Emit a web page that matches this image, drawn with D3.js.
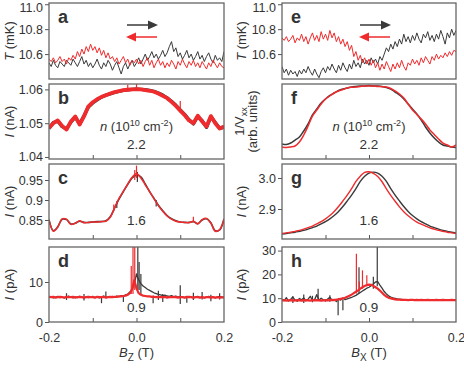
<!DOCTYPE html>
<html>
<head>
<meta charset="utf-8">
<script src="https://cdn.jsdelivr.net/npm/d3@7"></script>
<style>
    body { margin: 0; background: #fff; }
    text { font-family: "Liberation Sans", Arial, sans-serif; fill: #333; }
</style>
</head>
<body>
<div id="chart"></div>
<script>
// field sweeps (T), as recorded: fine steps for T and I(pA), coarse for the rest
let fieldFine = d3.range(-0.2, 0.2001, 0.005);
let fieldCoarse = d3.range(-0.2, 0.2001, 0.01);

// ---- panel a : T (mK) vs Bz
let tempUpZ = [10.53,10.50,10.55,10.51,10.49,10.54,10.52,10.50,10.55,10.53,
    10.51,10.56,10.53,10.50,10.54,10.58,10.52,10.55,10.50,10.53,
    10.49,10.52,10.56,10.51,10.48,10.53,10.50,10.55,10.52,10.47,
    10.51,10.54,10.49,10.44,10.50,10.53,10.48,10.52,10.55,10.50,
    10.53,10.57,10.52,10.56,10.60,10.55,10.58,10.62,10.57,10.60,
    10.56,10.59,10.63,10.58,10.61,10.66,10.70,10.62,10.65,10.58,
    10.61,10.56,10.59,10.63,10.57,10.60,10.55,10.58,10.62,10.56,
    10.59,10.54,10.58,10.61,10.56,10.53,10.59,10.55,10.57,10.54,10.62];
let tempDownZ = [10.56,10.54,10.57,10.53,10.55,10.58,10.54,10.56,10.52,10.57,
    10.55,10.59,10.56,10.62,10.58,10.64,10.60,10.66,10.62,10.68,
    10.63,10.66,10.61,10.65,10.59,10.63,10.57,10.61,10.56,10.58,
    10.54,10.57,10.52,10.55,10.58,10.53,10.56,10.51,10.55,10.53,
    10.56,10.52,10.55,10.50,10.54,10.57,10.51,10.55,10.49,10.53,
    10.56,10.51,10.54,10.49,10.53,10.50,10.55,10.52,10.48,10.54,
    10.51,10.56,10.52,10.49,10.54,10.51,10.55,10.50,10.53,10.49,
    10.54,10.51,10.48,10.53,10.50,10.55,10.52,10.49,10.53,10.50,10.49];

// ---- panel e : T (mK) vs Bx
let tempUpX = [10.50,10.45,10.48,10.43,10.47,10.44,10.46,10.42,10.47,10.44,
    10.48,10.45,10.50,10.46,10.43,10.48,10.44,10.41,10.46,10.49,
    10.45,10.50,10.47,10.52,10.48,10.45,10.51,10.47,10.53,10.49,
    10.46,10.52,10.48,10.55,10.50,10.53,10.49,10.56,10.52,10.55,
    10.51,10.57,10.53,10.56,10.52,10.58,10.55,10.60,10.65,10.62,
    10.68,10.64,10.70,10.66,10.72,10.68,10.76,10.70,10.74,10.69,
    10.75,10.71,10.77,10.72,10.69,10.76,10.73,10.78,10.71,10.75,
    10.70,10.76,10.72,10.79,10.74,10.68,10.77,10.73,10.80,10.75,10.79];
let tempDownX = [10.73,10.71,10.74,10.70,10.72,10.75,10.69,10.73,10.71,10.76,
    10.70,10.74,10.68,10.73,10.77,10.71,10.75,10.70,10.78,10.72,
    10.76,10.71,10.79,10.73,10.77,10.70,10.74,10.68,10.72,10.66,
    10.70,10.63,10.67,10.58,10.62,10.55,10.59,10.53,10.57,10.52,
    10.56,10.51,10.55,10.49,10.53,10.47,10.52,10.48,10.54,10.50,
    10.46,10.52,10.48,10.53,10.49,10.55,10.50,10.47,10.53,10.51,
    10.56,10.52,10.55,10.51,10.57,10.53,10.58,10.55,10.52,10.58,
    10.55,10.60,10.56,10.59,10.57,10.61,10.58,10.62,10.59,10.63,10.62];

// ---- panel b : I (nA) vs Bz, n = 2.2
let currUpZ22 = [1.0484,1.0502,1.0506,1.0490,1.0483,1.0503,1.0518,1.0498,1.0522,1.0548,
    1.0560,1.0569,1.0577,1.0583,1.0587,1.0591,1.0594,1.0597,1.0599,1.0600,
    1.0601,1.0600,1.0599,1.0597,1.0594,1.0589,1.0583,1.0575,1.0565,1.0553,
    1.0539,1.0526,1.0510,1.0498,1.0520,1.0507,1.0488,1.0519,1.0502,1.0485,1.0488];
let currDownZ22 = [1.0486,1.0500,1.0508,1.0492,1.0481,1.0505,1.0520,1.0496,1.0520,1.0550,
    1.0562,1.0571,1.0578,1.0583,1.0588,1.0592,1.0595,1.0598,1.0599,1.0600,
    1.0600,1.0600,1.0598,1.0596,1.0593,1.0588,1.0581,1.0574,1.0563,1.0551,
    1.0537,1.0524,1.0508,1.0500,1.0522,1.0505,1.0490,1.0521,1.0500,1.0484,1.0490];
let spikesDownZ22 = [[-0.02, 1.0598, 1.0614], [0.0, 1.0600, 1.0622], [0.1, 1.0532, 1.0566]];

// ---- panel c : I (nA) vs Bz, n = 1.6
let currUpZ16 = [0.851,0.823,0.833,0.852,0.851,0.840,0.842,0.847,0.844,0.844,
    0.845,0.846,0.846,0.848,0.858,0.880,0.902,0.921,0.939,0.955,
    0.962,0.958,0.940,0.921,0.904,0.887,0.873,0.861,0.853,0.848,
    0.845,0.844,0.844,0.846,0.841,0.850,0.853,0.843,0.823,0.825,0.852];
let currDownZ16 = [0.850,0.822,0.832,0.853,0.852,0.839,0.842,0.848,0.843,0.844,
    0.845,0.845,0.846,0.847,0.857,0.881,0.904,0.922,0.940,0.957,
    0.966,0.955,0.938,0.921,0.903,0.886,0.872,0.860,0.852,0.847,
    0.845,0.844,0.843,0.847,0.840,0.851,0.854,0.842,0.822,0.826,0.853];
let spikesUpZ16 = [[0.002, 0.945, 0.970], [-0.045, 0.880, 0.897], [0.045, 0.884, 0.900]];
let spikesDownZ16 = [[0.0, 0.955, 0.986], [-0.004, 0.950, 0.975], [-0.052, 0.872, 0.889], [0.13, 0.845, 0.858]];

// ---- panel d : I (pA) vs Bz, n = 0.9
let currUpZ09 = [6.1,6.3,6.0,6.2,6.4,6.1,6.3,6.0,6.2,6.5,
    6.2,6.0,6.3,6.1,6.4,6.2,6.0,6.3,6.1,6.2,
    6.4,6.1,6.3,6.0,6.2,6.5,6.1,6.3,6.2,6.4,
    6.2,6.5,6.3,6.6,6.4,6.8,7.0,7.5,8.2,9.5,
    12.0,10.5,9.6,9.0,8.6,8.2,7.9,7.6,7.3,7.1,
    6.9,6.8,6.6,6.7,6.5,6.4,6.6,6.3,6.5,6.2,
    6.4,6.3,6.1,6.4,6.2,6.3,6.0,6.2,6.4,6.1,
    6.3,6.0,6.2,6.4,6.1,6.3,6.0,6.2,6.4,6.1,6.3];
let currDownZ09 = [6.3,6.2,6.3,6.1,6.2,6.3,6.2,6.1,6.3,6.2,
    6.2,6.3,6.1,6.2,6.3,6.2,6.1,6.2,6.3,6.2,
    6.2,6.1,6.3,6.2,6.2,6.3,6.1,6.2,6.3,6.2,
    6.3,6.3,6.4,6.4,6.5,6.6,6.8,7.2,8.2,10.5,
    8.4,7.2,6.8,6.6,6.5,6.4,6.4,6.3,6.3,6.2,
    6.3,6.2,6.2,6.3,6.1,6.2,6.2,6.3,6.2,6.1,
    6.2,6.2,6.1,6.2,6.3,6.2,6.1,6.2,6.2,6.1,
    6.2,6.1,6.2,6.2,6.1,6.2,6.1,6.2,6.1,6.2,6.1];
let spikesUpZ09 = [[0.003, 8, 19], [0.006, 8, 15], [0.010, 7, 12], [-0.16, 5.5, 7.2], [-0.12, 5.4, 7.0],
    [-0.08, 4.7, 6.5], [-0.07, 6.0, 7.6], [-0.03, 5.0, 6.5], [0.038, 4.7, 6.6], [0.05, 5.5, 7.8],
    [0.06, 5.0, 7.0], [0.10, 4.5, 9.2], [0.115, 4.8, 6.4], [0.13, 5.5, 7.3], [0.15, 5.6, 7.5],
    [0.17, 5.2, 6.8], [0.19, 5.6, 7.2]];
let spikesDownZ09 = [[-0.008, 7, 19], [-0.004, 8, 19], [-0.012, 7, 14]];

// ---- panel f : 1/Vxx (arb. units) vs Bx, n = 2.2
let invVUpX22 = [0.200,0.193,0.213,0.253,0.293,0.373,0.467,0.587,0.667,0.747,
    0.800,0.847,0.880,0.913,0.933,0.947,0.960,0.967,0.973,0.973,
    0.980,0.973,0.973,0.967,0.953,0.933,0.893,0.853,0.800,0.733,
    0.667,0.600,0.520,0.427,0.347,0.280,0.227,0.187,0.173,0.160,0.153];
let invVDownX22 = [0.160,0.153,0.160,0.173,0.227,0.320,0.440,0.573,0.653,0.733,
    0.800,0.840,0.880,0.907,0.927,0.947,0.956,0.960,0.967,0.973,
    0.973,0.973,0.967,0.964,0.960,0.940,0.907,0.867,0.813,0.733,
    0.653,0.593,0.533,0.467,0.387,0.327,0.267,0.213,0.187,0.160,0.187];

// ---- panel g : I (nA) vs Bx, n = 1.6
let currUpX16 = [2.819,2.821,2.823,2.825,2.828,2.831,2.835,2.840,2.845,2.852,
    2.859,2.868,2.879,2.892,2.908,2.926,2.945,2.966,2.989,3.006,
    3.016,3.019,3.016,3.006,2.989,2.966,2.945,2.926,2.908,2.892,
    2.879,2.868,2.859,2.852,2.845,2.840,2.835,2.831,2.828,2.825,2.823];
let currDownX16 = [2.821,2.823,2.825,2.828,2.831,2.835,2.840,2.845,2.852,2.859,
    2.868,2.879,2.892,2.908,2.926,2.945,2.966,2.989,3.006,3.018,
    3.020,3.015,3.005,2.988,2.965,2.944,2.925,2.907,2.891,2.878,
    2.867,2.858,2.851,2.845,2.839,2.835,2.831,2.828,2.825,2.823,2.821];

// ---- panel h : I (pA) vs Bx, n = 0.9
let currUpX09 = [9.5,9.0,10.2,8.8,9.6,10.5,9.2,8.7,9.9,9.3,
    10.1,8.9,9.6,10.8,9.0,9.4,11.5,9.1,10.0,9.3,
    8.8,9.7,10.4,9.1,9.5,8.6,9.8,9.2,10.1,9.4,
    9.7,10.0,10.3,10.8,11.2,11.8,12.4,13.0,13.6,14.2,
    14.6,15.2,16.0,16.8,17.0,15.5,14.2,12.8,11.8,11.0,
    10.5,10.1,9.9,9.7,9.6,9.5,9.4,9.4,9.3,9.4,
    9.3,9.3,9.4,9.2,9.3,9.3,9.2,9.3,9.2,9.3,
    9.2,9.3,9.2,9.2,9.3,9.2,9.2,9.3,9.2,9.2,9.2];
let currDownX09 = [9.1,9.2,9.0,9.1,9.2,9.0,9.1,9.2,9.1,9.0,
    9.1,9.2,9.1,9.0,9.2,9.1,9.2,9.1,9.0,9.1,
    9.2,9.1,9.2,9.3,9.2,9.4,9.5,9.7,9.9,10.2,
    10.6,11.0,11.5,12.1,12.7,13.3,14.0,14.6,15.1,15.5,
    15.7,15.6,15.2,14.6,14.0,13.2,12.3,11.4,10.7,10.2,
    9.9,9.7,9.5,9.4,9.4,9.3,9.3,9.3,9.2,9.3,
    9.3,9.2,9.3,9.2,9.3,9.2,9.2,9.3,9.2,9.2,
    9.2,9.3,9.2,9.2,9.3,9.2,9.2,9.2,9.3,9.2,9.2];
let spikesUpX09 = [[0.019, 15, 32], [0.010, 14, 19], [-0.023, 12, 23], [-0.117, 9, 14], [-0.071, 2.8, 9.5],
    [-0.060, 4.9, 9.5], [-0.15, 8, 11.5], [-0.13, 8.3, 11], [-0.175, 8, 10.8], [-0.09, 8.5, 11.2]];
let spikesDownX09 = [[-0.029, 12, 28.7], [-0.015, 14, 21.7], [-0.005, 15, 19.6], [-0.022, 13, 17]];

// labels
let densityLabels = ["2.2", "1.6", "0.9"];
let xTickLabels = [-0.2, 0.0, 0.2];
let xTickMarks = [-0.1, 0.0, 0.1];

const RED = "#ef2b2d", BLACK = "#3a3a3a";

class tracePanel {
    constructor(svg, box, opts) {
        this.svg = svg;
        this.box = box;
        this.opts = opts;
        this.initVis();
    }

    initVis() {
        let vis = this;
        let b = vis.box;

        vis.x = d3.scaleLinear().domain([-0.2, 0.2]).range([b.x0, b.x1]);
        vis.y = d3.scaleLinear().domain(vis.opts.yDomain).range([b.y1, b.y0]);

        vis.svg.append("clipPath")
            .attr("id", "clip-" + vis.opts.letter)
            .append("rect")
            .attr("x", b.x0).attr("y", b.y0)
            .attr("width", b.x1 - b.x0).attr("height", b.y1 - b.y0);

        vis.g = vis.svg.append("g")
            .attr("clip-path", "url(#clip-" + vis.opts.letter + ")");

        // y axis, ticks outward
        if (vis.opts.yTicks.length) {
            let yAxis = vis.svg.append("g")
                .attr("transform", "translate(" + b.x0 + ",0)")
                .call(d3.axisLeft(vis.y).tickValues(vis.opts.yTicks).tickSize(4).tickPadding(2)
                    .tickFormat(vis.opts.yFormat));
            yAxis.select(".domain").remove();
            yAxis.selectAll("line").attr("stroke", "#555");
            yAxis.selectAll("text").style("font-size", "12.5px").attr("fill", "#333")
                .style("font-family", '"Liberation Sans", Arial, sans-serif');
            // the top label sits just under the window edge
            yAxis.selectAll("text").filter(d => vis.y(d) < 6).attr("y", 3);
        }

        // x ticks, inward
        if (vis.opts.xTicks) {
            let xAxis = vis.svg.append("g")
                .attr("transform", "translate(0," + b.y1 + ")")
                .call(d3.axisBottom(vis.x).tickValues(xTickMarks).tickSize(-4).tickFormat(""));
            xAxis.select(".domain").remove();
            xAxis.selectAll("line").attr("stroke", "#555");
        }

        if (vis.opts.xLabels) {
            let xLab = vis.svg.append("g")
                .attr("transform", "translate(0," + b.y1 + ")")
                .call(d3.axisBottom(vis.x).tickValues(xTickLabels).tickSize(0).tickPadding(11)
                    .tickFormat(d => d.toFixed(1)));
            xLab.select(".domain").remove();
            xLab.selectAll("text").style("font-size", "12.5px").attr("fill", "#333")
                .style("font-family", '"Liberation Sans", Arial, sans-serif');
        }
    }

    drawLines() {
        let vis = this;

        vis.opts.series.forEach(s => {
            let pts = s.values.map((v, i) => [s.field[i], v]);
            vis.g.append("path")
                .datum(pts)
                .attr("fill", "none")
                .attr("stroke", s.color)
                .attr("stroke-width", s.width)
                .attr("stroke-linejoin", "round")
                .attr("d", d3.line().x(d => vis.x(d[0])).y(d => vis.y(d[1]))
                    .curve(s.smooth ? d3.curveCatmullRom : d3.curveLinear));

            if (s.spikes) {
                vis.g.selectAll(null)
                    .data(s.spikes)
                    .enter()
                    .append("line")
                    .attr("x1", d => vis.x(d[0])).attr("x2", d => vis.x(d[0]))
                    .attr("y1", d => vis.y(d[1])).attr("y2", d => vis.y(d[2]))
                    .attr("stroke", s.color)
                    .attr("stroke-width", 1.2);
            }
        });

        // frame
        vis.svg.append("rect")
            .attr("x", vis.box.x0).attr("y", vis.box.y0)
            .attr("width", vis.box.x1 - vis.box.x0).attr("height", vis.box.y1 - vis.box.y0)
            .attr("fill", "none")
            .attr("stroke", "#666")
            .attr("stroke-width", 1.3);

        // panel letter
        vis.svg.append("text")
            .attr("x", vis.box.x0 + 9)
            .attr("y", vis.box.y0 + 20)
            .style("font-size", "18px")
            .style("font-weight", "bold")
            .text(vis.opts.letter);
    }
}

let svg = d3.select("#chart").append("svg")
    .attr("width", 464)
    .attr("height", 368);

let cols = [{x0: 49, x1: 224, title: 9}, {x0: 282, x1: 456, title: 241}];
let rows = [{y0: 3, y1: 79}, {y0: 84, y1: 159}, {y0: 164, y1: 239}, {y0: 247, y1: 322}];
let box = (c, r) => ({x0: cols[c].x0, x1: cols[c].x1, y0: rows[r].y0, y1: rows[r].y1});

let f1 = d3.format(".1f"), f2 = d3.format(".2f");

let panels = [
    {c: 0, r: 0, letter: "a", yDomain: [10.4, 11.01], yTicks: [10.6, 10.8, 11.0], yFormat: f1, xTicks: false,
        series: [{field: fieldFine, values: tempUpZ, color: BLACK, width: 1},
                 {field: fieldFine, values: tempDownZ, color: RED, width: 1}]},
    {c: 0, r: 1, letter: "b", yDomain: [1.0394, 1.0616], yTicks: [1.04, 1.05, 1.06], yFormat: f2, xTicks: true,
        series: [{field: fieldCoarse, values: currUpZ22, color: BLACK, width: 3.4},
                 {field: fieldCoarse, values: currDownZ22, color: RED, width: 3.8, spikes: spikesDownZ22}]},
    {c: 0, r: 2, letter: "c", yDomain: [0.8025, 0.99], yTicks: [0.85, 0.9, 0.95], yFormat: d => String(d), xTicks: true,
        series: [{field: fieldCoarse, values: currUpZ16, color: BLACK, width: 1.6, smooth: true, spikes: spikesUpZ16},
                 {field: fieldCoarse, values: currDownZ16, color: RED, width: 1.5, smooth: true, spikes: spikesDownZ16}]},
    {c: 0, r: 3, letter: "d", yDomain: [0, 18.75], yTicks: [0, 10], yFormat: d => String(d), xTicks: true, xLabels: true,
        series: [{field: fieldFine, values: currUpZ09, color: BLACK, width: 1.3, spikes: spikesUpZ09},
                 {field: fieldFine, values: currDownZ09, color: RED, width: 2.2, spikes: spikesDownZ09}]},
    {c: 1, r: 0, letter: "e", yDomain: [10.4, 11.01], yTicks: [10.6, 10.8, 11.0], yFormat: f1, xTicks: false,
        series: [{field: fieldFine, values: tempUpX, color: BLACK, width: 1},
                 {field: fieldFine, values: tempDownX, color: RED, width: 1}]},
    {c: 1, r: 1, letter: "f", yDomain: [0, 1], yTicks: [], xTicks: true,
        series: [{field: fieldCoarse, values: invVUpX22, color: BLACK, width: 1.5, smooth: true},
                 {field: fieldCoarse, values: invVDownX22, color: RED, width: 1.5, smooth: true}]},
    {c: 1, r: 2, letter: "g", yDomain: [2.8032, 3.0452], yTicks: [2.9, 3.0], yFormat: f1, xTicks: true,
        series: [{field: fieldCoarse, values: currUpX16, color: BLACK, width: 1.4, smooth: true},
                 {field: fieldCoarse, values: currDownX16, color: RED, width: 1.4, smooth: true}]},
    {c: 1, r: 3, letter: "h", yDomain: [0, 31.5], yTicks: [0, 10, 20, 30], yFormat: d => String(d), xTicks: true, xLabels: true,
        series: [{field: fieldFine, values: currUpX09, color: BLACK, width: 1.3, spikes: spikesUpX09},
                 {field: fieldFine, values: currDownX09, color: RED, width: 2.2, spikes: spikesDownX09}]}
];

panels.forEach(p => {
    let tp = new tracePanel(svg, box(p.c, p.r), p);
    tp.drawLines();
});

// sweep direction arrows in a and e
cols.forEach(col => {
    let ax = col.x0 + 78;
    svg.append("line").attr("x1", ax).attr("x2", ax + 23).attr("y1", 25).attr("y2", 25)
        .attr("stroke", BLACK).attr("stroke-width", 1.5);
    svg.append("path").attr("d", `M${ax + 21},20.5 L${ax + 31},25 L${ax + 21},29.5 Z`).attr("fill", BLACK);
    svg.append("line").attr("x1", ax + 7).attr("x2", ax + 30).attr("y1", 37).attr("y2", 37)
        .attr("stroke", RED).attr("stroke-width", 1.5);
    svg.append("path").attr("d", `M${ax + 9},32.5 L${ax - 1},37 L${ax + 9},41.5 Z`).attr("fill", RED);
});

// density annotations
cols.forEach(col => {
    let cx = (col.x0 + col.x1) / 2;
    let nLab = svg.append("text").attr("x", cx).attr("y", 131).attr("text-anchor", "middle")
        .style("font-size", "13px");
    nLab.append("tspan").style("font-style", "italic").text("n");
    nLab.append("tspan").text(" (10");
    nLab.append("tspan").attr("dy", -5).style("font-size", "9px").text("10");
    nLab.append("tspan").attr("dy", 5).text(" cm");
    nLab.append("tspan").attr("dy", -5).style("font-size", "9px").text("-2");
    nLab.append("tspan").attr("dy", 5).text(")");

    [149, 225, 312].forEach((yy, i) => {
        svg.append("text").attr("x", cx).attr("y", yy).attr("text-anchor", "middle")
            .style("font-size", "13.5px").text(densityLabels[i]);
    });

    // x axis title
    let xt = svg.append("text").attr("x", cx).attr("y", 357).attr("text-anchor", "middle")
        .style("font-size", "13px");
    xt.append("tspan").style("font-style", "italic").text("B");
    xt.append("tspan").attr("dy", 4).style("font-size", "10px").text(col.x0 < 100 ? "Z" : "X");
    xt.append("tspan").attr("dy", -4).text(" (T)");
});

// y axis titles
function yTitle(x, yc, parts) {
    let t = svg.append("text")
        .attr("transform", "translate(" + x + "," + yc + ") rotate(-90)")
        .attr("text-anchor", "middle")
        .attr("dy", "0.35em")
        .style("font-size", "13px");
    parts.forEach(p => {
        let s = t.append("tspan").text(p.t);
        if (p.i) s.style("font-style", "italic");
        if (p.sub) s.attr("dy", 3).style("font-size", "9px");
    });
}

cols.forEach((col, ci) => {
    rows.forEach((row, ri) => {
        let yc = (row.y0 + row.y1) / 2;
        if (ri === 0) yTitle(col.title, yc, [{t: "T", i: true}, {t: " (mK)"}]);
        if (ri === 1 && ci === 0) yTitle(col.title, yc, [{t: "I", i: true}, {t: " (nA)"}]);
        if (ri === 1 && ci === 1) {
            yTitle(col.title - 2, yc, [{t: "1/V"}, {t: "xx", sub: true}]);
            yTitle(col.title + 11, yc, [{t: "(arb. units)"}]);
        }
        if (ri === 2) yTitle(col.title, yc, [{t: "I", i: true}, {t: " (nA)"}]);
        if (ri === 3) yTitle(col.title, yc, [{t: "I", i: true}, {t: " (pA)"}]);
    });
});
</script>
</body>
</html>
